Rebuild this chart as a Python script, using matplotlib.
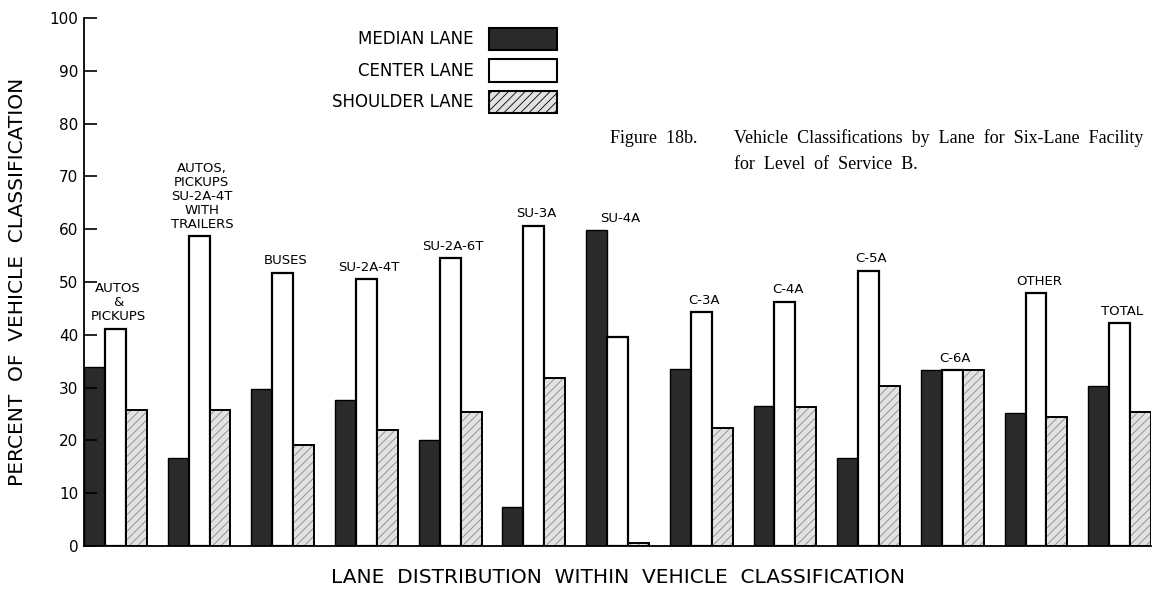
import numpy as np
import matplotlib
matplotlib.use('Agg')
from matplotlib import pyplot as plt
from matplotlib.patches import Rectangle

# lane distribution (percent) within each vehicle class
classes = ['AUTOS\n&\nPICKUPS', 'AUTOS,\nPICKUPS\nSU-2A-4T\nWITH\nTRAILERS', 'BUSES',
           'SU-2A-4T', 'SU-2A-6T', 'SU-3A', 'SU-4A', 'C-3A', 'C-4A', 'C-5A',
           'C-6A', 'OTHER', 'TOTAL']
median = [33.9, 16.7, 29.7, 27.7, 20.1, 7.4, 59.8, 33.6, 26.6, 16.6, 33.3, 25.1, 30.3]
center = [41.1, 58.7, 51.7, 50.5, 54.5, 60.6, 39.6, 44.3, 46.3, 52.1, 33.3, 47.9, 42.2]
shoulder = [25.8, 25.8, 19.1, 22.0, 25.4, 31.8, 0.5, 22.3, 26.4, 30.3, 33.3, 24.5, 25.3]
lanes = ['MEDIAN LANE', 'CENTER LANE', 'SHOULDER LANE']

dark = '#2a2a2a'
light = '#e2e2e2'
plt.rcParams['hatch.linewidth'] = 0.6

fig = plt.figure(figsize=(11.71, 5.93), dpi=100)
ax = fig.add_axes([0.0717, 0.0793, 0.9113, 0.8903])

x = np.arange(len(classes))
w = 0.25

ax.bar(x - w, median, w, color=dark, edgecolor='black', linewidth=1.0, align='edge')
ax.bar(x, center, w, color='white', edgecolor='black', linewidth=1.6, align='edge')
# shoulder: grey hatching first, then a black outline on top
plt.rcParams['hatch.color'] = '#888888'
ax.bar(x + w, shoulder, w, color=light, edgecolor='#888888', linewidth=0, hatch='////',
       align='edge')
ax.bar(x + w, shoulder, w, fill=False, edgecolor='black', linewidth=1.4, align='edge')

# class labels above each group
for i, lab in enumerate(classes):
    top = max(median[i], center[i], shoulder[i])
    ax.annotate(lab, (x[i] + w / 2, top), xytext=(2, 4), textcoords='offset points',
                ha='center', va='bottom', fontsize=9.5, linespacing=1.1)

ax.set_xlim(x[0] - w, x[-1] + 2 * w)
ax.set_ylim(0, 100)
ax.set_yticks(range(0, 101, 10))
ax.set_xticks([])
ax.tick_params(axis='y', direction='in', length=9, width=1.2, labelsize=11, pad=4)
for s in ['top', 'right']:
    ax.spines[s].set_visible(False)
ax.spines['left'].set_linewidth(1.3)
ax.spines['bottom'].set_linewidth(1.3)

ax.set_ylabel('PERCENT  OF  VEHICLE  CLASSIFICATION', fontsize=14.5, labelpad=16)
ax.set_xlabel('LANE  DISTRIBUTION  WITHIN  VEHICLE  CLASSIFICATION', fontsize=14.5,
              labelpad=16)

# hand drawn legend
colors = [dark, 'white', light]
for j, name in enumerate(lanes):
    yc = 1 - (39 + 31.5 * j) / 593
    fig.text(474 / 1171, yc, name, ha='right', va='center', fontsize=12)
    r = Rectangle((489 / 1171, yc - 11 / 593), 68 / 1171, 22 / 593, transform=fig.transFigure,
                  facecolor=colors[j], edgecolor='black', linewidth=1.5,
                  hatch='////' if j == 2 else None)
    fig.patches.append(r)

# figure caption
fig.text(610 / 1171, 1 - 143 / 593, 'Figure  18b.', fontsize=13, family='Liberation Serif',
         va='baseline')
fig.text(734 / 1171, 1 - 143 / 593, 'Vehicle  Classifications  by  Lane  for  Six-Lane  Facility',
         fontsize=13, family='Liberation Serif', va='baseline')
fig.text(734 / 1171, 1 - 169 / 593, 'for  Level  of  Service  B.', fontsize=13,
         family='Liberation Serif', va='baseline')

fig.savefig('out.png', dpi=100, facecolor='white')
